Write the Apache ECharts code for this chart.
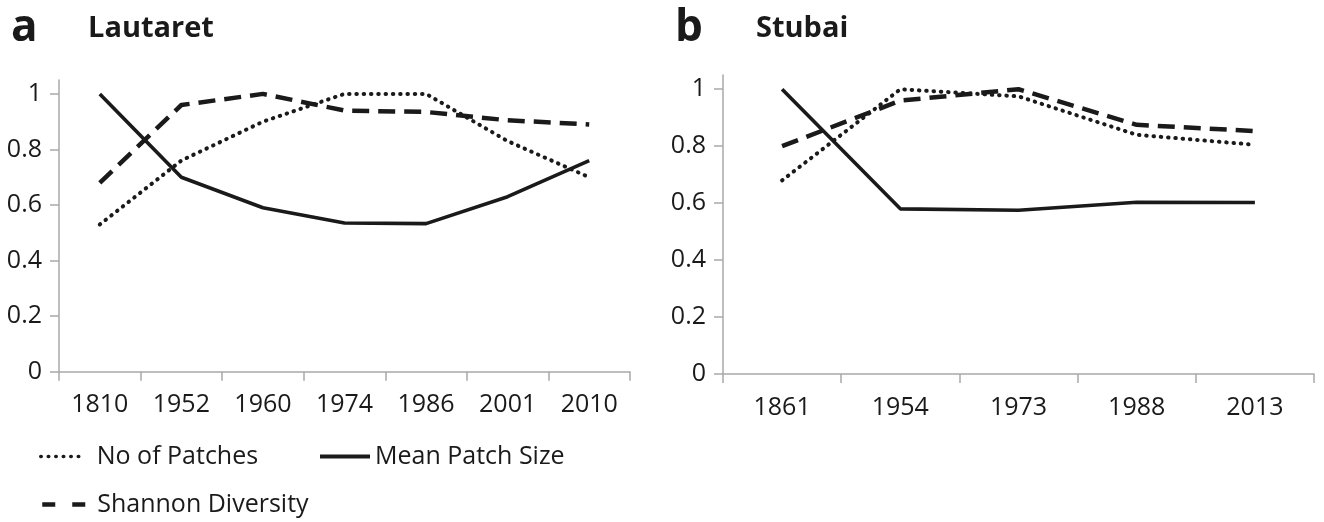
<!DOCTYPE html>
<html>
<head>
<meta charset="utf-8">
<script src="https://cdn.jsdelivr.net/npm/echarts@6/dist/echarts.min.js"></script>
<style>
  html, body { margin: 0; padding: 0; background: #fff; }
  #chart { width: 1324px; height: 522px; }
</style>
</head>
<body>
<div id="chart"></div>
<script>
    // panel a - Lautaret
    var lautaretYears = ['1810', '1952', '1960', '1974', '1986', '2001', '2010'];
    var lautaretPatches = [0.53, 0.76, 0.90, 1.0, 1.0, 0.83, 0.70];
    var lautaretMean = [1.0, 0.70, 0.59, 0.535, 0.533, 0.63, 0.76];
    var lautaretShannon = [0.68, 0.96, 1.0, 0.94, 0.935, 0.905, 0.89];

    // panel b - Stubai
    var stubaiYears = ['1861', '1954', '1973', '1988', '2013'];
    var stubaiPatches = [0.68, 1.0, 0.975, 0.84, 0.805];
    var stubaiMean = [1.0, 0.58, 0.575, 0.603, 0.602];
    var stubaiShannon = [0.80, 0.96, 1.0, 0.875, 0.853];

    var yTicks = [0, 0.2, 0.4, 0.6, 0.8, 1];

    var font = '"Open Sans", "Noto Sans", sans-serif';
    var axisGrey = '#a9a9a9';
    var ink = '#1a1a1a';

    var dotted = { color: ink, width: 4, type: [0.5, 6.8], cap: 'round' };
    var solid = { color: ink, width: 3.6, type: 'solid' };
    var dashed = { color: ink, width: 4.5, type: [17, 9], cap: 'butt' };

    function xAxis(idx, cats) {
        return {
            type: 'category',
            gridIndex: idx,
            data: cats,
            boundaryGap: true,
            axisLine: { lineStyle: { color: axisGrey, width: 1.5 } },
            axisTick: { show: true, length: 9, lineStyle: { color: axisGrey, width: 1.5 } },
            axisLabel: { color: ink, fontFamily: font, fontSize: 25, margin: 21 },
            splitLine: { show: false }
        };
    }

    function yAxis(idx) {
        return {
            type: 'value',
            gridIndex: idx,
            min: 0,
            max: 1.05,
            interval: 0.2,
            axisLine: { show: true, lineStyle: { color: axisGrey, width: 1.5 } },
            axisTick: { show: true, length: 9, customValues: yTicks, lineStyle: { color: axisGrey, width: 1.5 } },
            axisLabel: {
                color: ink, fontFamily: font, fontSize: 25, margin: 17,
                customValues: yTicks,
                formatter: function (v) { return String(Math.round(v * 10) / 10); }
            },
            splitLine: { show: false }
        };
    }

    function line(name, idx, data, style, z) {
        return {
            name: name,
            type: 'line',
            xAxisIndex: idx,
            yAxisIndex: idx,
            data: data,
            symbol: 'none',
            lineStyle: style,
            itemStyle: { color: ink },
            z: z,
            animation: false
        };
    }

    function legendAt(name, style, left, top, width, pad) {
        return {
            data: [name],
            left: left,
            top: top,
            padding: 0,
            itemWidth: width,
            itemHeight: 14,
            itemStyle: { opacity: 0 },
            lineStyle: style,
            textStyle: { color: ink, fontFamily: font, fontSize: 25, padding: [0, 0, 0, pad] },
            selectedMode: false
        };
    }

    var chart = echarts.init(document.getElementById('chart'));
    chart.setOption({
        backgroundColor: '#fff',
        animation: false,
        grid: [
            { left: 59, top: 80, width: 571, height: 291.7 },
            { left: 723, top: 75, width: 591, height: 299 }
        ],
        xAxis: [xAxis(0, lautaretYears), xAxis(1, stubaiYears)],
        yAxis: [yAxis(0), yAxis(1)],
        legend: [
            legendAt('No of Patches', { color: ink, width: 3.5, type: [0.5, 7], cap: 'round' }, 39, 444, 43, 8),
            legendAt('Mean Patch Size', { color: ink, width: 4, type: 'solid' }, 318, 444, 50, 0),
            legendAt('Shannon Diversity', { color: ink, width: 4.5, type: [13, 17], cap: 'butt' }, 40, 492, 43, 7)
        ],
        graphic: [
            { type: 'text', left: 11, top: 6, style: { text: 'a', font: 'bold 44px ' + font, fill: ink } },
            { type: 'text', left: 88, top: 14, style: { text: 'Lautaret', font: 'bold 29px ' + font, fill: ink } },
            { type: 'text', left: 675, top: 6, style: { text: 'b', font: 'bold 44px ' + font, fill: ink } },
            { type: 'text', left: 756, top: 14, style: { text: 'Stubai', font: 'bold 29px ' + font, fill: ink } }
        ],
        series: [
            line('No of Patches', 0, lautaretPatches, dotted, 2),
            line('Mean Patch Size', 0, lautaretMean, solid, 3),
            line('Shannon Diversity', 0, lautaretShannon, dashed, 2),
            line('No of Patches', 1, stubaiPatches, dotted, 2),
            line('Mean Patch Size', 1, stubaiMean, solid, 3),
            line('Shannon Diversity', 1, stubaiShannon, dashed, 2)
        ]
    });
</script>
</body>
</html>
